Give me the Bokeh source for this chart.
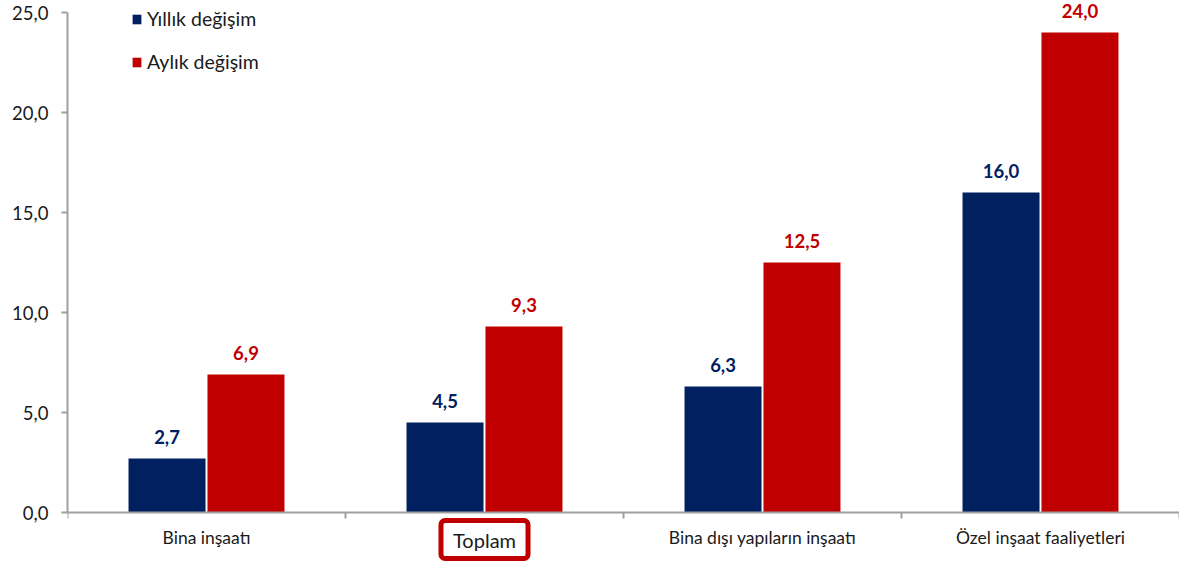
from bokeh.plotting import figure
from bokeh.models import (FixedTicker, Legend, LegendItem, Label, ColumnDataSource,
                          Range1d, CustomJSTickFormatter)
from bokeh.core.properties import value
from bokeh.embed import file_html
from bokeh.resources import INLINE

categories = ["Bina inşaatı", "Toplam", "Bina dışı yapıların inşaatı", "Özel inşaat faaliyetleri"]
yillik = [2.7, 4.5, 6.3, 16.0]
aylik = [6.9, 9.3, 12.5, 24.0]
series_names = ["Yıllık değişim", "Aylık değişim"]
y_ticks = [0, 5, 10, 15, 20, 25]
highlight = "Toplam"

FONT = "Lato"
NAVY = "#002060"
RED = "#C00000"
AXIS = "#A0A0A0"
TXT = "#1a1a1a"

n = len(categories)
centers = [i + 0.5 for i in range(n)]
fmt = lambda v: f"{v:.1f}".replace(".", ",")
OFF = 0.142
W = 0.277

src_y = ColumnDataSource(dict(x=[c - OFF for c in centers], top=yillik, label=[fmt(v) for v in yillik]))
src_a = ColumnDataSource(dict(x=[c + OFF for c in centers], top=aylik, label=[fmt(v) for v in aylik]))

# frame spans the whole canvas height (562 px, 20 px per unit); x axis is pinned at y = 0
p = figure(width=1179, height=562, x_range=Range1d(0, n), y_range=Range1d(-2.5, 25.6),
           output_backend="svg", toolbar_location=None,
           min_border_left=67, min_border_right=0, min_border_top=0, min_border_bottom=0)
p.outline_line_color = None
p.grid.grid_line_color = None
p.background_fill_color = "white"

r_y = p.vbar(x="x", top="top", width=W, source=src_y, fill_color=NAVY, line_color=None)
r_a = p.vbar(x="x", top="top", width=W, source=src_a, fill_color=RED, line_color=None)

for src, col in ((src_y, NAVY), (src_a, RED)):
    p.text(x="x", y="top", text="label", source=src, text_align="center", text_baseline="middle",
           y_offset=-22, text_font=value(FONT), text_font_style="bold", text_font_size="18.5px",
           text_color=col)

axis_labels = [("" if c == highlight else c) for c in categories]

xa = p.xaxis[0]
xa.fixed_location = 0
xa.ticker = FixedTicker(ticks=centers, minor_ticks=list(range(n + 1)))
xa.formatter = CustomJSTickFormatter(args=dict(labels=axis_labels),
                                     code="return labels[Math.floor(tick)] || '';")
xa.major_tick_line_color = None
xa.major_tick_out = 0
xa.major_tick_in = 0
xa.minor_tick_out = 6
xa.minor_tick_in = 0
xa.minor_tick_line_color = AXIS
xa.minor_tick_line_width = 2
xa.axis_line_color = AXIS
xa.axis_line_width = 2
xa.major_label_standoff = 8
xa.major_label_text_font = FONT
xa.major_label_text_font_size = "17.5px"
xa.major_label_text_color = TXT

ya = p.yaxis[0]
ya.bounds = (y_ticks[0], y_ticks[-1])
ya.ticker = FixedTicker(ticks=y_ticks, minor_ticks=[])
ya.formatter = CustomJSTickFormatter(code="return tick.toFixed(1).replace('.', ',');")
ya.major_tick_out = 6
ya.major_tick_in = 0
ya.major_tick_line_color = AXIS
ya.major_tick_line_width = 2
ya.axis_line_color = AXIS
ya.axis_line_width = 2
ya.major_label_standoff = 13
ya.major_label_text_font = FONT
ya.major_label_text_font_size = "18.5px"
ya.major_label_text_color = TXT

hi = categories.index(highlight)
p.add_layout(Label(x=centers[hi], y=23, x_units="data", y_units="screen", text=highlight,
                   text_align="center", text_baseline="middle", text_font=FONT,
                   text_font_size="20px", text_color=TXT, border_line_color=RED,
                   border_line_width=5, padding=(12, 7), border_radius=4,
                   background_fill_color="white"))

legend = Legend(items=[LegendItem(label=series_names[0], renderers=[r_y]),
                       LegendItem(label=series_names[1], renderers=[r_a])],
                location=(64, 489), glyph_width=11, glyph_height=12, label_standoff=5,
                label_height=22, spacing=20, padding=0, margin=0, border_line_color=None,
                background_fill_alpha=0, label_text_font=FONT, label_text_font_size="19.5px",
                label_text_color=TXT)
p.add_layout(legend)

open("out.html", "w").write(file_html(p, INLINE))
